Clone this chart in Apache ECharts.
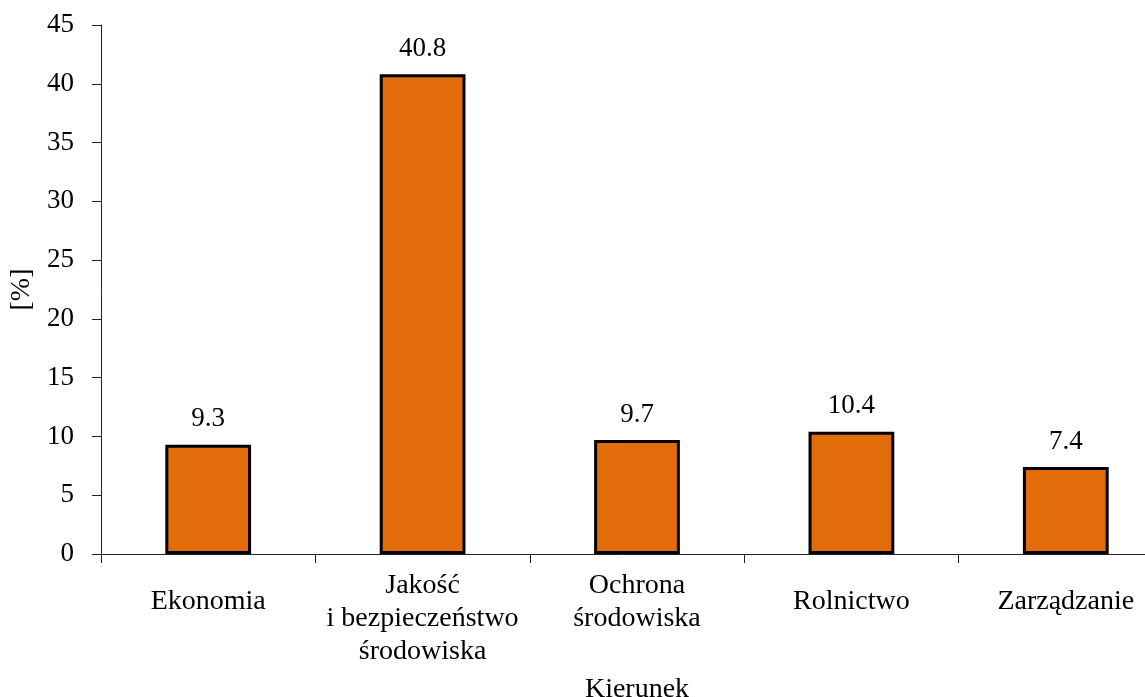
<!DOCTYPE html>
<html><head><meta charset="utf-8">
<script src="https://cdn.jsdelivr.net/npm/echarts@6/dist/echarts.min.js"></script>
<style>html,body{margin:0;padding:0;background:#fff}#c{width:1145px;height:697px}</style>
</head><body><div id="c"></div>
<script>
const categories = ['Ekonomia', 'Jakość\ni bezpieczeństwo\nśrodowiska', 'Ochrona\nśrodowiska', 'Rolnictwo', 'Zarządzanie'];
const values = [9.3, 40.8, 9.7, 10.4, 7.4];
const yTicks = { min: 0, max: 45, interval: 5 };
const xName = 'Kierunek';
const yName = '[%]';

const font = 'Liberation Serif';
const chart = echarts.init(document.getElementById('c'));
chart.setOption({
  animation: false,
  grid: { left: 101, top: 25, bottom: 143, right: -28, containLabel: false, outerBoundsMode: 'none' },
  xAxis: {
    type: 'category',
    data: categories.map(c => c.indexOf('\n') >= 0 ? c : { value: c, textStyle: { padding: [16, 0, 0, 0] } }),
    name: xName, nameLocation: 'middle', nameGap: 122,
    nameTextStyle: { fontFamily: font, fontSize: 28, color: '#000' },
    axisLine: { lineStyle: { color: '#222', width: 1 } },
    axisTick: { show: true, length: 9, lineStyle: { color: '#222' } },
    axisLabel: { fontFamily: font, fontSize: 28, color: '#000', lineHeight: 33, margin: 15, interval: 0 }
  },
  yAxis: {
    type: 'value', min: yTicks.min, max: yTicks.max, interval: yTicks.interval,
    name: yName, nameLocation: 'middle', nameGap: 62, nameRotate: 90,
    nameTextStyle: { fontFamily: font, fontSize: 28, color: '#000' },
    splitLine: { show: false },
    axisLine: { show: true, lineStyle: { color: '#222', width: 1 } },
    axisTick: { show: true, length: 9, lineStyle: { color: '#222' } },
    axisLabel: { fontFamily: font, fontSize: 27, color: '#000', margin: 27 }
  },
  series: [{
    type: 'bar', data: values, barWidth: '40%',
    itemStyle: { color: '#E36C0A', borderColor: '#000', borderWidth: 3 },
    label: { show: true, position: 'top', distance: 12, fontFamily: font, fontSize: 27, color: '#000', formatter: p => p.value.toFixed(1) }
  }]
});
</script></body></html>
